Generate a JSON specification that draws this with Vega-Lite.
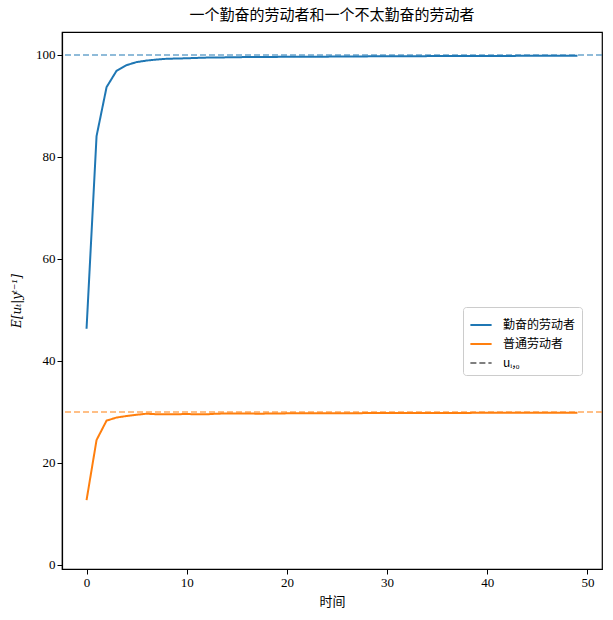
{
  "$schema": "https://vega.github.io/schema/vega-lite/v6.json",
  "width": 540,
  "height": 537,
  "autosize": {"type": "none"},
  "padding": {"left": 62, "top": 32, "right": 11, "bottom": 51},
  "background": "white",
  "title": {"text": "一个勤奋的劳动者和一个不太勤奋的劳动者", "font": "Noto Sans CJK SC", "fontSize": 15, "fontWeight": "normal", "color": "black", "offset": 9},
  "config": {
    "view": {"stroke": "black", "strokeWidth": 1.2},
    "axis": {"domainColor": "black", "domainWidth": 1.2, "tickColor": "black", "tickSize": 5, "tickWidth": 1, "labelFont": "Liberation Serif", "labelFontSize": 13, "labelColor": "black", "grid": false, "titleFont": "Noto Sans CJK SC", "titleFontSize": 13, "titleFontWeight": "normal", "titleColor": "black"}
  },
  "datasets": {
    "series": [
      {"t": 0, "value": 46.3, "series": "勤奋的劳动者"},
      {"t": 1, "value": 84.1, "series": "勤奋的劳动者"},
      {"t": 2, "value": 93.7, "series": "勤奋的劳动者"},
      {"t": 3, "value": 96.9, "series": "勤奋的劳动者"},
      {"t": 4, "value": 98.0, "series": "勤奋的劳动者"},
      {"t": 5, "value": 98.6, "series": "勤奋的劳动者"},
      {"t": 6, "value": 98.9, "series": "勤奋的劳动者"},
      {"t": 7, "value": 99.1, "series": "勤奋的劳动者"},
      {"t": 8, "value": 99.25, "series": "勤奋的劳动者"},
      {"t": 9, "value": 99.3, "series": "勤奋的劳动者"},
      {"t": 10, "value": 99.35, "series": "勤奋的劳动者"},
      {"t": 11, "value": 99.42, "series": "勤奋的劳动者"},
      {"t": 12, "value": 99.48, "series": "勤奋的劳动者"},
      {"t": 13, "value": 99.5, "series": "勤奋的劳动者"},
      {"t": 14, "value": 99.53, "series": "勤奋的劳动者"},
      {"t": 15, "value": 99.55, "series": "勤奋的劳动者"},
      {"t": 16, "value": 99.6, "series": "勤奋的劳动者"},
      {"t": 17, "value": 99.6, "series": "勤奋的劳动者"},
      {"t": 18, "value": 99.6, "series": "勤奋的劳动者"},
      {"t": 19, "value": 99.62, "series": "勤奋的劳动者"},
      {"t": 20, "value": 99.65, "series": "勤奋的劳动者"},
      {"t": 21, "value": 99.66, "series": "勤奋的劳动者"},
      {"t": 22, "value": 99.66, "series": "勤奋的劳动者"},
      {"t": 23, "value": 99.67, "series": "勤奋的劳动者"},
      {"t": 24, "value": 99.67, "series": "勤奋的劳动者"},
      {"t": 25, "value": 99.68, "series": "勤奋的劳动者"},
      {"t": 26, "value": 99.7, "series": "勤奋的劳动者"},
      {"t": 27, "value": 99.71, "series": "勤奋的劳动者"},
      {"t": 28, "value": 99.72, "series": "勤奋的劳动者"},
      {"t": 29, "value": 99.73, "series": "勤奋的劳动者"},
      {"t": 30, "value": 99.74, "series": "勤奋的劳动者"},
      {"t": 31, "value": 99.75, "series": "勤奋的劳动者"},
      {"t": 32, "value": 99.75, "series": "勤奋的劳动者"},
      {"t": 33, "value": 99.76, "series": "勤奋的劳动者"},
      {"t": 34, "value": 99.77, "series": "勤奋的劳动者"},
      {"t": 35, "value": 99.77, "series": "勤奋的劳动者"},
      {"t": 36, "value": 99.78, "series": "勤奋的劳动者"},
      {"t": 37, "value": 99.78, "series": "勤奋的劳动者"},
      {"t": 38, "value": 99.79, "series": "勤奋的劳动者"},
      {"t": 39, "value": 99.8, "series": "勤奋的劳动者"},
      {"t": 40, "value": 99.8, "series": "勤奋的劳动者"},
      {"t": 41, "value": 99.81, "series": "勤奋的劳动者"},
      {"t": 42, "value": 99.81, "series": "勤奋的劳动者"},
      {"t": 43, "value": 99.82, "series": "勤奋的劳动者"},
      {"t": 44, "value": 99.82, "series": "勤奋的劳动者"},
      {"t": 45, "value": 99.83, "series": "勤奋的劳动者"},
      {"t": 46, "value": 99.83, "series": "勤奋的劳动者"},
      {"t": 47, "value": 99.84, "series": "勤奋的劳动者"},
      {"t": 48, "value": 99.84, "series": "勤奋的劳动者"},
      {"t": 49, "value": 99.85, "series": "勤奋的劳动者"},
      {"t": 0, "value": 12.7, "series": "普通劳动者"},
      {"t": 1, "value": 24.5, "series": "普通劳动者"},
      {"t": 2, "value": 28.3, "series": "普通劳动者"},
      {"t": 3, "value": 28.9, "series": "普通劳动者"},
      {"t": 4, "value": 29.2, "series": "普通劳动者"},
      {"t": 5, "value": 29.45, "series": "普通劳动者"},
      {"t": 6, "value": 29.65, "series": "普通劳动者"},
      {"t": 7, "value": 29.55, "series": "普通劳动者"},
      {"t": 8, "value": 29.55, "series": "普通劳动者"},
      {"t": 9, "value": 29.56, "series": "普通劳动者"},
      {"t": 10, "value": 29.58, "series": "普通劳动者"},
      {"t": 11, "value": 29.55, "series": "普通劳动者"},
      {"t": 12, "value": 29.54, "series": "普通劳动者"},
      {"t": 13, "value": 29.66, "series": "普通劳动者"},
      {"t": 14, "value": 29.68, "series": "普通劳动者"},
      {"t": 15, "value": 29.68, "series": "普通劳动者"},
      {"t": 16, "value": 29.7, "series": "普通劳动者"},
      {"t": 17, "value": 29.66, "series": "普通劳动者"},
      {"t": 18, "value": 29.67, "series": "普通劳动者"},
      {"t": 19, "value": 29.7, "series": "普通劳动者"},
      {"t": 20, "value": 29.72, "series": "普通劳动者"},
      {"t": 21, "value": 29.72, "series": "普通劳动者"},
      {"t": 22, "value": 29.73, "series": "普通劳动者"},
      {"t": 23, "value": 29.74, "series": "普通劳动者"},
      {"t": 24, "value": 29.74, "series": "普通劳动者"},
      {"t": 25, "value": 29.75, "series": "普通劳动者"},
      {"t": 26, "value": 29.76, "series": "普通劳动者"},
      {"t": 27, "value": 29.76, "series": "普通劳动者"},
      {"t": 28, "value": 29.77, "series": "普通劳动者"},
      {"t": 29, "value": 29.77, "series": "普通劳动者"},
      {"t": 30, "value": 29.78, "series": "普通劳动者"},
      {"t": 31, "value": 29.78, "series": "普通劳动者"},
      {"t": 32, "value": 29.79, "series": "普通劳动者"},
      {"t": 33, "value": 29.79, "series": "普通劳动者"},
      {"t": 34, "value": 29.8, "series": "普通劳动者"},
      {"t": 35, "value": 29.8, "series": "普通劳动者"},
      {"t": 36, "value": 29.8, "series": "普通劳动者"},
      {"t": 37, "value": 29.81, "series": "普通劳动者"},
      {"t": 38, "value": 29.81, "series": "普通劳动者"},
      {"t": 39, "value": 29.82, "series": "普通劳动者"},
      {"t": 40, "value": 29.82, "series": "普通劳动者"},
      {"t": 41, "value": 29.82, "series": "普通劳动者"},
      {"t": 42, "value": 29.83, "series": "普通劳动者"},
      {"t": 43, "value": 29.83, "series": "普通劳动者"},
      {"t": 44, "value": 29.83, "series": "普通劳动者"},
      {"t": 45, "value": 29.84, "series": "普通劳动者"},
      {"t": 46, "value": 29.84, "series": "普通劳动者"},
      {"t": 47, "value": 29.84, "series": "普通劳动者"},
      {"t": 48, "value": 29.85, "series": "普通劳动者"},
      {"t": 49, "value": 29.85, "series": "普通劳动者"}
    ],
    "ref": [
      {"value": 100, "series": "勤奋的劳动者"},
      {"value": 30, "series": "普通劳动者"}
    ]
  },
  "layer": [
    {
      "data": {"name": "ref"},
      "mark": {"type": "rule", "strokeDash": [6, 3], "strokeWidth": 2, "strokeOpacity": 0.5},
      "encoding": {
        "y": {"field": "value", "type": "quantitative"},
        "color": {"field": "series", "type": "nominal"}
      }
    },
    {
      "data": {"name": "series"},
      "mark": {"type": "line", "strokeWidth": 2, "strokeOpacity": 1, "opacity": 1},
      "encoding": {
        "x": {"field": "t", "type": "quantitative", "title": "时间", "scale": {"domain": [-2.45, 51.45], "nice": false, "zero": false}, "axis": {"values": [0, 10, 20, 30, 40, 50], "titlePadding": 6}},
        "y": {"field": "value", "type": "quantitative", "title": "E[uₜ|yᵗ⁻¹]", "scale": {"domain": [-0.8, 104.5], "nice": false}, "axis": {"values": [0, 20, 40, 60, 80, 100], "titleFont": "DejaVu Serif", "titleFontStyle": "italic", "titleFontSize": 12, "titlePadding": 12}},
        "color": {
          "field": "series", "type": "nominal",
          "scale": {"domain": ["勤奋的劳动者", "普通劳动者", "uᵢ,₀"], "range": ["#1f77b4", "#ff7f0e", "#7f7f7f"]},
          "legend": {"title": null, "orient": "none", "legendX": 401, "legendY": 275, "symbolType": "stroke", "symbolSize": 450, "symbolStrokeWidth": 2, "symbolOpacity": 1, "labelFont": "Noto Sans CJK SC", "labelFontSize": 12, "labelColor": "black", "labelOffset": 10, "fillColor": "white", "strokeColor": "#cccccc", "cornerRadius": 3, "padding": 6, "rowPadding": 1}
        },
        "strokeDash": {
          "field": "series", "type": "nominal",
          "scale": {"domain": ["勤奋的劳动者", "普通劳动者", "uᵢ,₀"], "range": [[1, 0], [1, 0], [6, 3]]}
        }
      }
    }
  ]
}
